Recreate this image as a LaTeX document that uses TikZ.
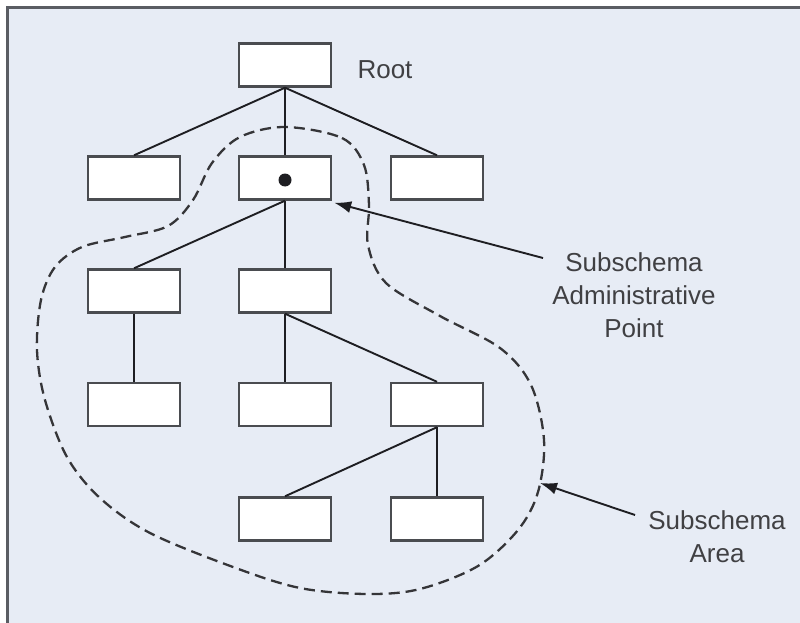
\documentclass[tikz,border=0pt]{standalone}
\usepackage{fontspec}
\setmainfont{Liberation Sans}
\usetikzlibrary{arrows.meta}
\definecolor{panel}{HTML}{E7ECF5}
\definecolor{frameline}{HTML}{5A5D63}
\definecolor{boxline}{HTML}{4A4C50}
\definecolor{ink}{HTML}{1E1E22}
\tikzset{
  rec/.style={draw=boxline, fill=white, line width=2.4pt, minimum width=92pt, minimum height=43pt, inner sep=0pt},
  link/.style={draw=ink, line width=1.9pt},
  label/.style={font=\fontsize{26}{33}\selectfont, text=ink!85, align=center, inner sep=0pt},
  pointer/.style={draw=ink, line width=1.9pt, -{Latex[length=17pt,width=12pt]}},
  area/.style={draw=ink!90, line width=2.3pt, dash pattern=on 11pt off 6pt},
}
\begin{document}
\begin{tikzpicture}[x=1pt,y=-1pt]
\useasboundingbox (0,0) rectangle (800,623);
% panel with frame on the left and top
\fill[panel] (7,8) rectangle (812,640);
\draw[frameline, line width=3pt] (7,640) -- (7,8) -- (812,8);

% dashed outline of the subschema area
\draw[area] plot[smooth cycle, tension=0.55] coordinates {
  (285,127) (342,138) (364,165) (369,205) (368,245) (386,283) (440,316)
  (500,348) (531,385) (544,440) (538,492) (518,530) (478,566) (420,589)
  (367,594) (300,588) (233,567) (150,533) (100,498) (67,457) (45,400)
  (37,350) (41,300) (55,267) (82,247) (125,237) (168,226) (193,200)
  (212,163) (240,137)};

% record boxes
\node[rec] (root) at (285,65) {};
\node[rec] (a1) at (134,178) {};
\node[rec] (a2) at (285,178) {};
\node[rec] (a3) at (437,178) {};
\node[rec] (b1) at (134,291) {};
\node[rec] (b2) at (285,291) {};
\node[rec] (c1) at (134,404.5) {};
\node[rec] (c2) at (285,404.5) {};
\node[rec] (c3) at (437,404.5) {};
\node[rec] (d1) at (285,519) {};
\node[rec] (d2) at (437,519) {};

% administrative point marker
\fill[ink] (a2.center) ++(0,2) circle (6.5pt);

% tree links
\draw[link] (root.south) -- (a1.north);
\draw[link] (root.south) -- (a2.north);
\draw[link] (root.south) -- (a3.north);
\draw[link] (a2.south) -- (b1.north);
\draw[link] (a2.south) -- (b2.north);
\draw[link] (b1.south) -- (c1.north);
\draw[link] (b2.south) -- (c2.north);
\draw[link] (b2.south) -- (c3.north);
\draw[link] (c3.south) -- (d1.north);
\draw[link] (c3.south) -- (d2.north);

% labels
\node[label] (rootlbl) at (385,70) {Root};
\node[label] (adminlbl) at (634,295) {Subschema\\Administrative\\Point};
\node[label] (arealbl) at (717,537) {Subschema\\Area};

% pointers
\coordinate (admintail) at (543,258);
\coordinate (areatail) at (635,515);
\coordinate (areatip) at (540,483);
\draw[pointer] (admintail) -- ([shift={(2,2)}]a2.south east);
\draw[pointer] (areatail) -- (areatip);
\end{tikzpicture}
\end{document}
